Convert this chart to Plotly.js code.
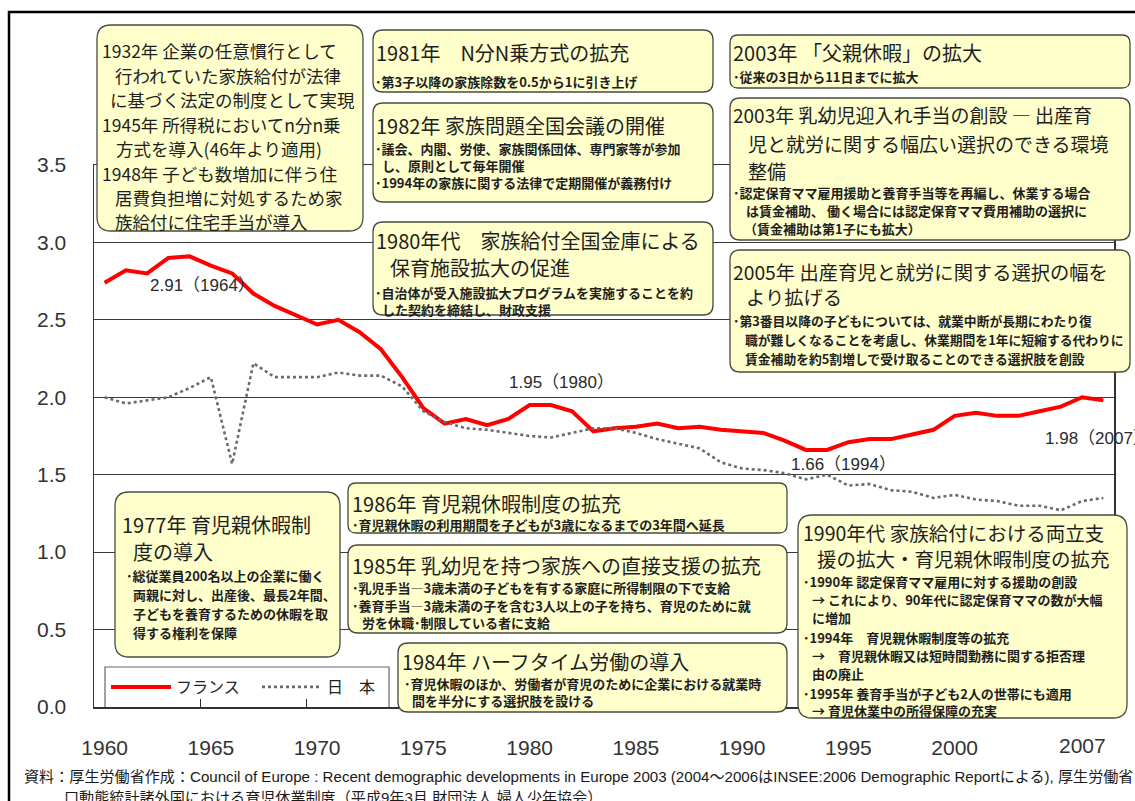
<!DOCTYPE html>
<html>
<head>
<meta charset="utf-8">
<script src="https://cdn.plot.ly/plotly-3.0.1.min.js"></script>
<style>
  html, body { margin: 0; padding: 0; background: #ffffff; }
  #chart { width: 1135px; height: 801px; }
</style>
</head>
<body>
<div id="chart"></div>
<script>
// ---- data: total fertility rate, France vs Japan ----
const years = [1960, 1961, 1962, 1963, 1964, 1965, 1966, 1967, 1968, 1969,
               1970, 1971, 1972, 1973, 1974, 1975, 1976, 1977, 1978, 1979,
               1980, 1981, 1982, 1983, 1984, 1985, 1986, 1987, 1988, 1989,
               1990, 1991, 1992, 1993, 1994, 1995, 1996, 1997, 1998, 1999,
               2000, 2001, 2002, 2003, 2004, 2005, 2006, 2007];
const france = [2.74, 2.82, 2.80, 2.90, 2.91, 2.85, 2.80, 2.67, 2.59, 2.53,
                2.47, 2.50, 2.42, 2.31, 2.13, 1.93, 1.83, 1.86, 1.82, 1.86,
                1.95, 1.95, 1.91, 1.78, 1.80, 1.81, 1.83, 1.80, 1.81, 1.79,
                1.78, 1.77, 1.72, 1.66, 1.66, 1.71, 1.73, 1.73, 1.76, 1.79,
                1.88, 1.90, 1.88, 1.88, 1.91, 1.94, 2.00, 1.98];
const japan = [2.00, 1.96, 1.98, 2.00, 2.06, 2.13, 1.57, 2.22, 2.13, 2.13,
               2.13, 2.16, 2.14, 2.14, 2.07, 1.91, 1.84, 1.80, 1.79, 1.77,
               1.75, 1.74, 1.77, 1.80, 1.80, 1.77, 1.73, 1.70, 1.67, 1.58,
               1.54, 1.53, 1.51, 1.47, 1.50, 1.43, 1.44, 1.40, 1.39, 1.35,
               1.37, 1.34, 1.33, 1.30, 1.30, 1.27, 1.33, 1.35];
const seriesNames = ['フランス', '日　本'];
const xTickYears = [1960, 1965, 1970, 1975, 1980, 1985, 1990, 1995, 2000];
const lastYear = 2007;
const yTickVals = [0, 0.5, 1.0, 1.5, 2.0, 2.5, 3.0, 3.5];
const labelledYears = [1964, 1980, 1994, 2007];

const sourceLines = [
  '資料：厚生労働省作成：Council of Europe : Recent demographic developments in Europe 2003 (2004～2006はINSEE:2006 Demographic Reportによる), 厚生労働省',
  '口動態統計諸外国における育児休業制度（平成9年3月 財団法人 婦人少年協会）'
];

// ---- page geometry (pixels) ----
const W = 1135, H = 801;
const M = { l: 94, r: 21, t: 165, b: 94 };
const plotW = W - M.l - M.r, plotH = H - M.t - M.b;
const px = x => (x - M.l) / plotW;          // pixel x -> paper x
const py = y => (H - M.b - y) / plotH;      // pixel y -> paper y

const JP = '"Noto Sans CJK JP", "Noto Sans CJK SC", sans-serif';
const LATIN = '"Liberation Sans", Arial, sans-serif';
const MIXED = '"Liberation Sans", Arial, "Noto Sans CJK JP", sans-serif';
const TXT = '#1e1e1e';

// policy notes: rounded boxes and their text lines [x, yCentre, kind, text]
const notes = [
  { rect: [97, 25, 363, 231], r: 14, head: 17.5, lines: [
    [102, 51, 'h', '1932年 企業の任意慣行として'],
    [115, 75, 'h', '行われていた家族給付が法律'],
    [110, 99, 'h', 'に基づく法定の制度として実現'],
    [102, 124, 'h', '1945年 所得税においてn分n乗'],
    [116, 148, 'h', '方式を導入(46年より適用)'],
    [102, 173, 'h', '1948年 子ども数増加に伴う住'],
    [115, 197, 'h', '居費負担増に対処するため家'],
    [115, 221, 'h', '族給付に住宅手当が導入']
  ]},
  { rect: [373, 30, 713, 92], r: 10, lines: [
    [376, 52, 'h', '1981年　N分N乗方式の拡充'],
    [375, 81, 'b', '･第3子以降の家族除数を0.5から1に引き上げ']
  ]},
  { rect: [373, 103, 713, 202], r: 10, lines: [
    [376, 126, 'h', '1982年 家族問題全国会議の開催'],
    [375, 148, 'b', '･議会、内閣、労使、家族関係団体、専門家等が参加'],
    [382, 165, 'b', 'し、原則として毎年開催'],
    [375, 182, 'b', '･1994年の家族に関する法律で定期開催が義務付け']
  ]},
  { rect: [373, 222, 713, 315], r: 10, lines: [
    [376, 240, 'h', '1980年代　家族給付全国金庫による'],
    [390, 267, 'h', '保育施設拡大の促進'],
    [375, 292, 'b', '･自治体が受入施設拡大プログラムを実施することを約'],
    [382, 309, 'b', 'した契約を締結し、財政支援']
  ]},
  { rect: [730, 35, 1130, 88], r: 8, lines: [
    [733, 53, 'h', '2003年 「父親休暇」の拡大'],
    [733, 77, 'b', '･従来の3日から11日までに拡大']
  ]},
  { rect: [730, 98, 1130, 240], r: 10, head: 19, lines: [
    [733, 115, 'h', '2003年 乳幼児迎入れ手当の創設 ― 出産育'],
    [748, 143, 'h', '児と就労に関する幅広い選択のできる環境'],
    [748, 170, 'h', '整備'],
    [733, 193, 'b', '･認定保育ママ雇用援助と養育手当等を再編し、休業する場合'],
    [746, 211, 'b', 'は賃金補助、 働く場合には認定保育ママ費用補助の選択に'],
    [744, 229, 'b', '（賃金補助は第1子にも拡大）']
  ]},
  { rect: [730, 250, 1130, 372], r: 10, head: 19.3, bullet: 12.8, lines: [
    [733, 272, 'h', '2005年 出産育児と就労に関する選択の幅を'],
    [746, 297, 'h', 'より拡げる'],
    [733, 320, 'b', '･第3番目以降の子どもについては、就業中断が長期にわたり復'],
    [745, 339, 'b', '職が難しくなることを考慮し、休業期間を1年に短縮する代わりに'],
    [745, 358, 'b', '賃金補助を約5割増しで受け取ることのできる選択肢を創設']
  ]},
  { rect: [115, 492, 340, 657], r: 14, lines: [
    [122, 524, 'h', '1977年 育児親休暇制'],
    [133, 551, 'h', '度の導入'],
    [126, 575, 'b', '･総従業員200名以上の企業に働く'],
    [133, 594, 'b', '両親に対し、出産後、最長2年間、'],
    [133, 613, 'b', '子どもを養育するための休暇を取'],
    [133, 632, 'b', '得する権利を保障']
  ]},
  { rect: [348, 483, 787, 533], r: 8, lines: [
    [352, 503, 'h', '1986年 育児親休暇制度の拡充'],
    [352, 524, 'b', '･育児親休暇の利用期間を子どもが3歳になるまでの3年間へ延長']
  ]},
  { rect: [348, 545, 787, 633], r: 10, lines: [
    [352, 565, 'h', '1985年 乳幼児を持つ家族への直接支援の拡充'],
    [352, 587, 'b', '･乳児手当―3歳未満の子どもを有する家庭に所得制限の下で支給'],
    [352, 605, 'b', '･養育手当―3歳未満の子を含む3人以上の子を持ち、育児のために就'],
    [362, 622, 'b', '労を休職･制限している者に支給']
  ]},
  { rect: [398, 643, 787, 712], r: 10, lines: [
    [402, 661, 'h', '1984年 ハーフタイム労働の導入'],
    [404, 683, 'b', '･育児休暇のほか、労働者が育児のために企業における就業時'],
    [412, 700, 'b', '間を半分にする選択肢を設ける']
  ]},
  { rect: [798, 515, 1127, 718], r: 14, head: 19.5, lines: [
    [803, 532, 'h', '1990年代 家族給付における両立支'],
    [817, 558, 'h', '援の拡大・育児親休暇制度の拡充'],
    [803, 581, 'b', '･1990年 認定保育ママ雇用に対する援助の創設'],
    [812, 599, 'b', '→ これにより、90年代に認定保育ママの数が大幅'],
    [812, 617, 'b', 'に増加'],
    [803, 637, 'b', '･1994年　育児親休暇制度等の拡充'],
    [812, 655, 'b', '→　育児親休暇又は短時間勤務に関する拒否理'],
    [812, 673, 'b', '由の廃止'],
    [803, 693, 'b', '･1995年 養育手当が子ども2人の世帯にも適用'],
    [812, 710, 'b', '→ 育児休業中の所得保障の充実']
  ]}
];

// value label offsets in pixels from the point (right / up): [dx, dy, anchor]
const labelOffsets = [[13, -29, 'center'], [32, 23, 'center'], [16, -15, 'center'], [-60, -38, 'left']];

function roundRectPath(x0, y0, x1, y1, r) {
  const P = (x, y) => px(x).toFixed(5) + ',' + py(y).toFixed(5);
  return 'M' + P(x0 + r, y0) + ' L' + P(x1 - r, y0) + ' Q' + P(x1, y0) + ' ' + P(x1, y0 + r) +
         ' L' + P(x1, y1 - r) + ' Q' + P(x1, y1) + ' ' + P(x1 - r, y1) +
         ' L' + P(x0 + r, y1) + ' Q' + P(x0, y1) + ' ' + P(x0, y1 - r) +
         ' L' + P(x0, y0 + r) + ' Q' + P(x0, y0) + ' ' + P(x0 + r, y0) + ' Z';
}

const shapes = [];
const annotations = [];

// legend background (between grid and axis ticks)
shapes.push({ type: 'rect', xref: 'paper', yref: 'paper', layer: 'between',
  x0: px(105), x1: px(389), y0: py(667), y1: py(708),
  fillcolor: '#ffffff', line: { color: '#666666', width: 1.2 } });

notes.forEach(n => {
  const [x0, y0, x1, y1] = n.rect;
  shapes.push({ type: 'path', xref: 'paper', yref: 'paper', layer: 'above',
    path: roundRectPath(x0, y0, x1, y1, n.r),
    fillcolor: '#FFFFCC', line: { color: '#4a4a42', width: 1.3 } });
  n.lines.forEach(([x, y, kind, text]) => {
    const isHead = kind === 'h';
    annotations.push({ xref: 'paper', yref: 'paper', x: px(x), y: py(y),
      xanchor: 'left', yanchor: 'middle', showarrow: false, text: text,
      borderpad: 0, borderwidth: 0,
      font: { family: JP, color: TXT,
              size: isHead ? (n.head || 20) : (n.bullet || 13),
              weight: isHead ? 'normal' : 'bold' } });
  });
});

// outer frame
shapes.push({ type: 'rect', xref: 'paper', yref: 'paper', layer: 'above',
  x0: px(9), x1: px(1145), y0: py(12), y1: py(812),
  line: { color: '#000000', width: 2.5 }, fillcolor: 'rgba(0,0,0,0)' });

// value labels on the France series
labelledYears.forEach((yr, i) => {
  const v = france[years.indexOf(yr)];
  const [dx, dy, anchor] = labelOffsets[i];
  annotations.push({ xref: 'x', yref: 'y', x: yr, y: v, xshift: dx, yshift: dy,
    xanchor: anchor, yanchor: 'middle', showarrow: false,
    text: v.toFixed(2) + '（' + yr + '）',
    font: { family: MIXED, size: 17, color: '#2a2a2a' } });
});

// final year label at the right end of the axis
annotations.push({ xref: 'x', yref: 'paper', x: lastYear, y: py(745), xshift: 5,
  xanchor: 'right', yanchor: 'middle', showarrow: false, text: String(lastYear),
  font: { family: LATIN, size: 21, color: '#333333' } });

// source notes
const srcPos = [[22, 776], [62, 797]];
sourceLines.forEach((t, i) => {
  annotations.push({ xref: 'paper', yref: 'paper', x: px(srcPos[i][0]), y: py(srcPos[i][1]),
    xanchor: 'left', yanchor: 'middle', showarrow: false, text: t,
    font: { family: MIXED, size: 15.1, color: '#1a1a1a' } });
});

const traces = [
  { type: 'scatter', mode: 'lines', name: seriesNames[0], x: years, y: france,
    line: { color: '#FF0000', width: 4 } },
  { type: 'scatter', mode: 'lines', name: seriesNames[1], x: years, y: japan,
    line: { color: '#6a6a6a', width: 2.6, dash: 'dot' } }
];

const layout = {
  width: W, height: H,
  margin: { l: M.l, r: M.r, t: M.t, b: M.b, pad: 0 },
  paper_bgcolor: '#ffffff', plot_bgcolor: '#ffffff',
  showlegend: true,
  legend: { orientation: 'h', x: px(106), y: py(687), xanchor: 'left', yanchor: 'middle',
    bgcolor: 'rgba(0,0,0,0)', borderwidth: 0, itemwidth: 60,
    entrywidth: 76, entrywidthmode: 'pixels',
    font: { family: JP, size: 16, color: '#222222' } },
  xaxis: { range: [1959.5, 2007.5], tickmode: 'array', tickvals: xTickYears,
    ticks: '', showgrid: false, zeroline: false,
    showline: true, mirror: true, linecolor: '#333333', linewidth: 1.5,
    ticklabelstandoff: 21,
    tickfont: { family: LATIN, size: 21, color: '#333333' },
    minor: { tickmode: 'array', tickvals: xTickYears.map(y => y + 4.5),
             ticks: 'inside', ticklen: 8, tickwidth: 1.3, tickcolor: '#333333', showgrid: false } },
  yaxis: { range: [0, 3.5], tickmode: 'array', tickvals: yTickVals, tickformat: '.1f',
    ticks: '', showgrid: true, gridcolor: '#3a3a3a', gridwidth: 1.2, zeroline: false,
    showline: true, mirror: true, linecolor: '#333333', linewidth: 1.5,
    ticklabelstandoff: 22,
    tickfont: { family: LATIN, size: 21, color: '#333333' } },
  shapes: shapes,
  annotations: annotations
};

Plotly.newPlot('chart', traces, layout, { staticPlot: true, displayModeBar: false });
</script>
</body>
</html>
